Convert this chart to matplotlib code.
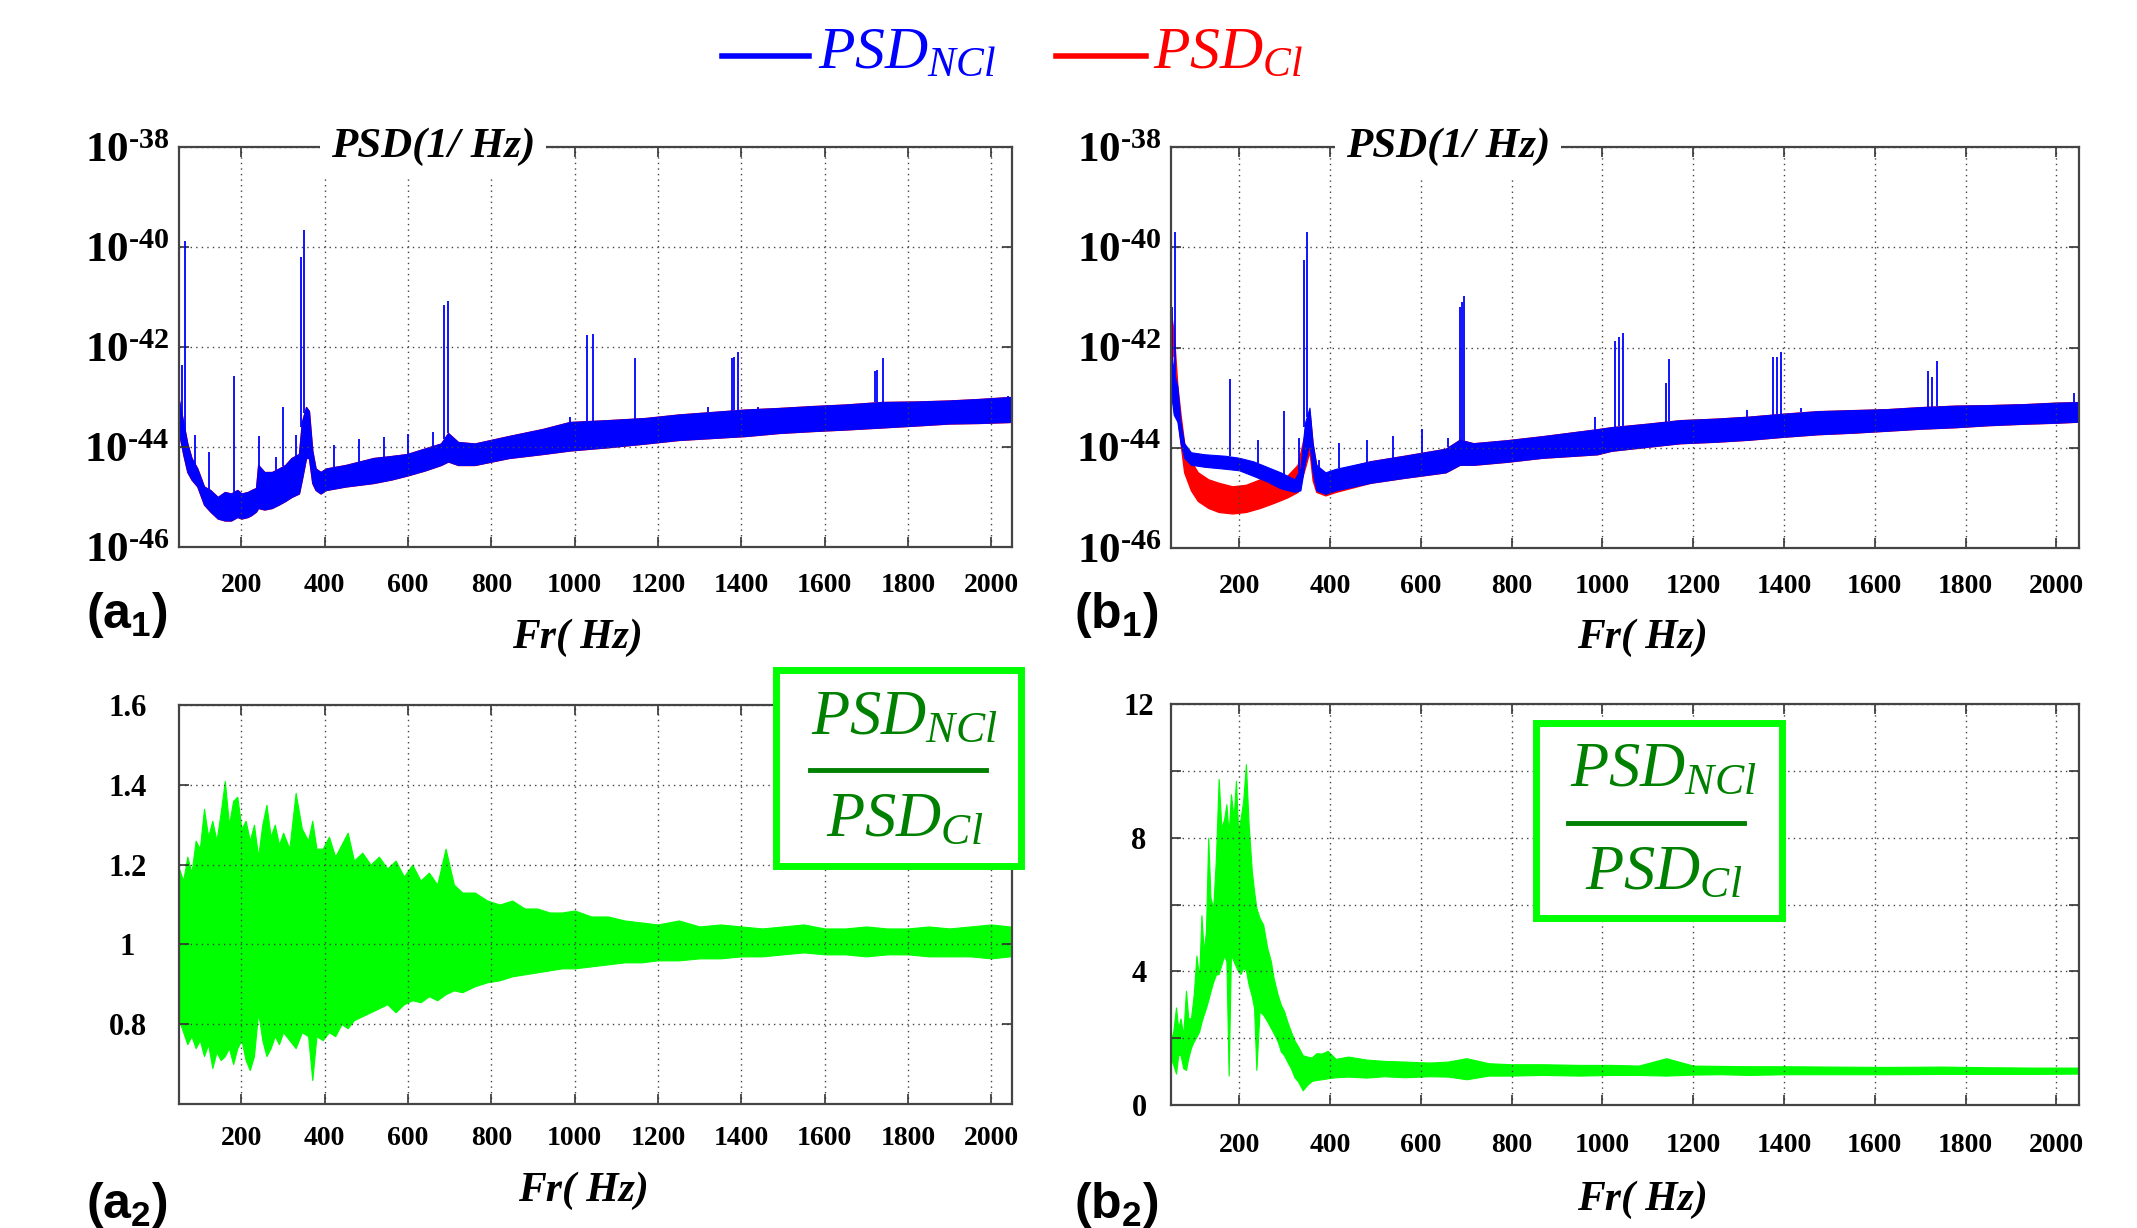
import numpy as np
import matplotlib
matplotlib.use("Agg")
import matplotlib.pyplot as plt
from matplotlib.patches import Rectangle
from matplotlib.lines import Line2D
from matplotlib.ticker import FuncFormatter

plt.rcParams['mathtext.fontset'] = 'custom'
plt.rcParams['mathtext.rm'] = 'Liberation Serif:bold'
plt.rcParams['mathtext.it'] = 'Liberation Serif:italic:normal'
plt.rcParams['mathtext.bf'] = 'Liberation Sans:bold'
plt.rcParams['font.family'] = ['Liberation Serif', 'DejaVu Sans']

# ---------------- data ----------------
# (a1) PSD band, log10 values
a1_f = [50, 55, 60, 70, 80, 94, 110, 125, 143, 160, 175, 190, 200, 215, 224, 235, 240, 255,
        273, 290, 305, 320, 338, 345, 355, 362, 370, 378, 390, 403, 450, 517, 560, 598, 640,
        679, 696, 720, 760, 842, 923, 988, 1086, 1170, 1249, 1330, 1411, 1490, 1574, 1650,
        1736, 1820, 1899, 1970, 2045]
a1_hi = [-43.07, -43.28, -43.50, -43.93, -44.22, -44.43, -44.79, -44.86, -45.00, -44.90, -44.93,
         -44.86, -44.93, -44.90, -44.86, -44.82, -44.36, -44.50, -44.50, -44.43, -44.36, -44.22,
         -44.14, -43.50, -43.20, -43.28, -44.07, -44.43, -44.50, -44.43, -44.36, -44.22, -44.18,
         -44.14, -44.03, -43.93, -43.72, -43.90, -43.93, -43.78, -43.64, -43.50, -43.46, -43.42,
         -43.35, -43.30, -43.25, -43.22, -43.18, -43.15, -43.10, -43.09, -43.07, -43.04, -43.00]
a1_lo = [-43.71, -43.93, -44.14, -44.50, -44.65, -44.79, -45.15, -45.29, -45.43, -45.47, -45.47,
         -45.40, -45.43, -45.40, -45.36, -45.29, -45.22, -45.25, -45.22, -45.15, -45.08, -45.00,
         -44.93, -44.65, -44.22, -44.22, -44.72, -44.86, -44.93, -44.86, -44.79, -44.72, -44.65,
         -44.57, -44.47, -44.36, -44.29, -44.36, -44.36, -44.22, -44.14, -44.07, -44.00, -43.93,
         -43.86, -43.82, -43.78, -43.72, -43.68, -43.65, -43.61, -43.57, -43.53, -43.52, -43.50]
a1_spk_f = [58, 65, 89, 122, 182, 242, 283, 300, 331, 344, 351, 362, 422, 481, 543, 601, 660,
            687, 697, 988, 1030, 1043, 1146, 1320, 1377, 1383, 1391, 1440, 1720, 1727, 1741, 2040]
a1_spk_top = [-42.35, -39.88, -43.75, -44.10, -42.58, -43.78, -44.20, -43.20, -43.75, -40.20,
              -39.66, -43.30, -43.96, -43.84, -43.80, -43.73, -43.70, -41.15, -41.08, -43.39,
              -41.76, -41.74, -42.22, -43.19, -42.21, -42.19, -42.09, -43.20, -42.48, -42.46,
              -42.22, -42.98]

# (b1) PSD bands, log10 values
b1_f = [50, 56, 64, 71, 79, 94, 124, 170, 200, 231, 261, 291, 322, 335, 345, 355, 362, 370,
        390, 413, 489, 564, 655, 686, 716, 790, 868, 989, 1020, 1100, 1171, 1250, 1323, 1400,
        1475, 1550, 1627, 1700, 1778, 1850, 1930, 2000, 2049]
b1_hi = [-42.05, -42.48, -42.77, -43.48, -43.91, -44.09, -44.13, -44.16, -44.20, -44.27, -44.38,
         -44.49, -44.63, -44.42, -43.50, -43.20, -43.91, -44.34, -44.49, -44.42, -44.27, -44.16,
         -44.02, -43.84, -43.91, -43.85, -43.77, -43.63, -43.59, -43.52, -43.45, -43.42, -43.38,
         -43.32, -43.27, -43.25, -43.23, -43.19, -43.16, -43.15, -43.13, -43.10, -43.09]
b1_lo = [-42.91, -43.34, -43.48, -43.91, -44.20, -44.34, -44.38, -44.42, -44.45, -44.56, -44.67,
         -44.81, -44.88, -44.85, -44.30, -43.91, -44.50, -44.85, -44.92, -44.85, -44.70, -44.60,
         -44.49, -44.34, -44.34, -44.28, -44.20, -44.13, -44.06, -43.98, -43.91, -43.88, -43.84,
         -43.78, -43.73, -43.70, -43.66, -43.62, -43.59, -43.55, -43.52, -43.50, -43.48]
b1r_f = [50, 56, 64, 71, 79, 94, 109, 132, 155, 185, 215, 246, 276, 306, 329, 345, 355, 362,
         370, 390, 413]
b1r_hi = [-41.33, -41.69, -42.77, -43.34, -43.91, -44.27, -44.49, -44.63, -44.70, -44.77, -44.74,
          -44.63, -44.60, -44.56, -44.34, -43.70, -43.28, -43.92, -44.36, -44.52, -44.45]
b1r_lo = [-42.05, -42.19, -43.34, -43.91, -44.49, -44.85, -45.06, -45.20, -45.28, -45.31, -45.28,
          -45.20, -45.10, -44.99, -44.88, -44.40, -44.07, -44.65, -44.88, -44.95, -44.88]
b1_spk_f = [53, 59, 180, 241, 299, 331, 344, 349, 357, 375, 420, 481, 540, 602, 660, 686, 690,
            696, 983, 1029, 1037, 1045, 1141, 1146, 1319, 1376, 1385, 1393, 1438, 1717, 1726,
            1737, 2039]
b1_spk_top = [-41.19, -39.70, -42.62, -43.84, -43.27, -43.80, -40.26, -39.70, -43.34, -44.24,
              -43.90, -43.84, -43.77, -43.63, -43.80, -41.20, -41.10, -40.97, -43.38, -41.87,
              -41.80, -41.71, -42.70, -42.23, -43.25, -42.19, -42.18, -42.09, -43.20, -42.47,
              -42.59, -42.27, -42.91]

# (a2) ratio band
a2_f = [50, 60, 70, 80, 90, 100, 110, 120, 130, 140, 150, 160, 170, 180, 190, 200, 210, 220,
        230, 240, 250, 260, 270, 280, 290, 300, 315, 330, 345, 360, 370, 380, 395, 410, 425,
        440, 455, 470, 490, 510, 530, 550, 570, 590, 610, 630, 650, 670, 690, 710, 730, 760,
        790, 820, 850, 880, 910, 940, 970, 1000, 1040, 1080, 1120, 1160, 1200, 1250, 1300,
        1350, 1400, 1450, 1500, 1550, 1600, 1650, 1700, 1750, 1800, 1850, 1900, 1950, 2000, 2045]
a2_hi = [1.19, 1.16, 1.22, 1.18, 1.26, 1.24, 1.34, 1.27, 1.31, 1.26, 1.33, 1.41, 1.30, 1.36,
         1.37, 1.29, 1.31, 1.26, 1.30, 1.22, 1.30, 1.35, 1.27, 1.30, 1.25, 1.28, 1.24, 1.38,
         1.29, 1.26, 1.31, 1.24, 1.24, 1.27, 1.22, 1.25, 1.28, 1.21, 1.23, 1.20, 1.22, 1.19,
         1.21, 1.17, 1.20, 1.16, 1.18, 1.15, 1.24, 1.15, 1.13, 1.13, 1.11, 1.10, 1.11, 1.09,
         1.09, 1.08, 1.08, 1.085, 1.07, 1.07, 1.06, 1.055, 1.05, 1.06, 1.045, 1.05, 1.045,
         1.04, 1.045, 1.05, 1.04, 1.04, 1.045, 1.04, 1.04, 1.045, 1.04, 1.045, 1.05, 1.045]
a2_lo = [0.81, 0.78, 0.75, 0.77, 0.74, 0.76, 0.72, 0.75, 0.69, 0.73, 0.71, 0.72, 0.74, 0.70,
         0.74, 0.76, 0.71, 0.685, 0.72, 0.83, 0.76, 0.72, 0.74, 0.77, 0.75, 0.78, 0.76, 0.74,
         0.78, 0.77, 0.66, 0.77, 0.76, 0.78, 0.77, 0.80, 0.79, 0.81, 0.82, 0.83, 0.84, 0.85,
         0.83, 0.85, 0.86, 0.855, 0.87, 0.86, 0.875, 0.885, 0.88, 0.895, 0.905, 0.91, 0.92,
         0.925, 0.93, 0.935, 0.94, 0.94, 0.945, 0.95, 0.955, 0.955, 0.96, 0.96, 0.965, 0.965,
         0.97, 0.97, 0.975, 0.98, 0.975, 0.975, 0.97, 0.975, 0.975, 0.97, 0.97, 0.97, 0.965, 0.97]

# (b2) ratio band
b2_f = [50, 55, 61, 66, 71, 77, 83, 88, 94, 100, 106, 112, 117, 122, 127, 132, 137, 143, 149,
        155, 161, 167, 172, 177, 182, 188, 193, 198, 203, 209, 215, 221, 228, 233, 238, 245,
        253, 262, 270, 276, 285, 292, 299, 306, 314, 322, 330, 340, 350, 360, 370, 382, 395,
        413, 440, 480, 520, 564, 620, 660, 701, 750, 800, 868, 950, 1020, 1080, 1141, 1200,
        1260, 1323, 1400, 1500, 1627, 1750, 1850, 1950, 2049]
b2_hi = [1.93, 2.2, 2.92, 2.3, 2.59, 2.1, 3.42, 2.6, 2.59, 3.3, 4.47, 3.8, 5.68, 4.6, 5.2, 8.0,
         6.2, 5.9, 7.4, 9.76, 8.3, 8.55, 9.0, 8.1, 9.3, 8.6, 9.7, 8.2, 8.55, 9.1, 10.2, 8.4,
         7.0, 6.4, 5.9, 5.6, 5.4, 4.7, 4.3, 3.8, 3.3, 3.0, 2.81, 2.5, 2.2, 1.93, 1.75, 1.49,
         1.45, 1.42, 1.55, 1.54, 1.62, 1.38, 1.45, 1.36, 1.32, 1.30, 1.27, 1.30, 1.40, 1.25,
         1.22, 1.22, 1.20, 1.20, 1.18, 1.40, 1.18, 1.17, 1.16, 1.16, 1.15, 1.14, 1.15, 1.13,
         1.12, 1.12]
b2_lo = [1.38, 1.2, 0.94, 1.5, 1.49, 1.1, 1.05, 1.4, 1.71, 1.9, 2.04, 2.2, 2.48, 2.7, 2.9,
         3.14, 3.4, 3.69, 3.9, 3.92, 4.2, 4.47, 4.3, 0.88, 4.5, 4.3, 4.14, 4.0, 3.92, 4.1, 4.03,
         3.6, 3.25, 2.9, 1.05, 2.8, 2.7, 2.5, 2.3, 2.15, 1.9, 1.6, 1.49, 1.3, 1.1, 0.83, 0.7,
         0.44, 0.6, 0.72, 0.75, 0.77, 0.80, 0.83, 0.85, 0.82, 0.86, 0.83, 0.86, 0.85, 0.77,
         0.88, 0.88, 0.90, 0.88, 0.90, 0.90, 0.88, 0.91, 0.92, 0.90, 0.92, 0.92, 0.92, 0.93,
         0.93, 0.93, 0.94]

x_ticks = [200, 400, 600, 800, 1000, 1200, 1400, 1600, 1800, 2000]
psd_ticks = [1e-46, 1e-44, 1e-42, 1e-40, 1e-38]
a2_ticks = [0.6, 0.8, 1.0, 1.2, 1.4, 1.6]
a2_labels = ['', '0.8', '1', '1.2', '1.4', '1.6']
b2_ticks = [0, 2, 4, 6, 8, 10, 12]
b2_labels = ['0', '', '4', '', '8', '', '12']

BLUE, RED, LIME, DGREEN = '#0000ff', '#ff0000', '#00ff00', '#008000'
W, H = 2137, 1228


def rect(x0, y0, x1, y1):
    # pixel box -> figure fraction
    return [x0 / W, 1 - y1 / H, (x1 - x0) / W, (y1 - y0) / H]


def style(ax, xpad):
    ax.set_xlim(50, 2050)
    ax.set_xticks(x_ticks)
    ax.grid(True, linestyle=(0, (1, 3)), color='#444444', linewidth=1.0)
    ax.tick_params(direction='in', length=7, width=1.2, top=True, right=True,
                   colors='#333333', labelcolor='black')
    ax.tick_params(axis='x', labelsize=20, pad=xpad)
    for s in ax.spines.values():
        s.set_color('#444444')
        s.set_linewidth(1.6)
    for t in ax.get_xticklabels():
        t.set_fontweight('bold')


def sci(v, pos):
    return r'$10^{\text{-%d}}$' % int(round(-np.log10(v)))


def psd_panel(ax, f, hi, lo, spk_f, spk_top, red_f, red_hi, red_lo):
    f = np.array(f)
    ax.fill_between(red_f, 10 ** np.array(red_lo), 10 ** np.array(red_hi),
                    color=RED, linewidth=1.0, edgecolor=RED)
    ax.fill_between(f, 10 ** np.array(lo), 10 ** np.array(hi),
                    color=BLUE, linewidth=0.8, edgecolor=BLUE)
    base = 10 ** np.interp(spk_f, f, hi)
    ax.vlines(spk_f, base, 10 ** np.array(spk_top), color=BLUE, linewidth=1.3)
    ax.set_yscale('log')
    ax.set_ylim(1e-46, 1e-38)
    ax.set_yticks(psd_ticks)
    ax.minorticks_off()
    ax.yaxis.set_major_formatter(FuncFormatter(sci))
    ax.tick_params(axis='y', labelsize=31, pad=7)
    ax.text(0.305, 1.0, 'PSD(1/ Hz)', transform=ax.transAxes, ha='center', va='center',
            fontsize=31, style='italic', weight='bold', zorder=10,
            bbox=dict(fc='white', ec='none', pad=8))


fig = plt.figure(figsize=(W / 100, H / 100), dpi=100)

# (a1)
ax1 = fig.add_axes(rect(179, 147, 1012, 547))
style(ax1, 19)
psd_panel(ax1, a1_f, a1_hi, a1_lo, a1_spk_f, a1_spk_top, a1_f, a1_hi, a1_lo)

# (b1)
ax2 = fig.add_axes(rect(1171, 147, 2079, 548))
style(ax2, 19)
red_f = b1r_f + [v for v in b1_f if v > 413]
red_hi = b1r_hi + [h for v, h in zip(b1_f, b1_hi) if v > 413]
red_lo = b1r_lo + [l for v, l in zip(b1_f, b1_lo) if v > 413]
psd_panel(ax2, b1_f, b1_hi, b1_lo, b1_spk_f, b1_spk_top, red_f, red_hi, red_lo)

# (a2)
ax3 = fig.add_axes(rect(179, 705, 1012, 1104))
style(ax3, 16)
ax3.fill_between(a2_f, a2_lo, a2_hi, color=LIME, linewidth=0.8, edgecolor=LIME)
ax3.set_ylim(0.6, 1.6)
ax3.set_yticks(a2_ticks)
ax3.set_yticklabels(a2_labels)
ax3.tick_params(axis='y', labelsize=22, pad=37)
for t in ax3.get_yticklabels():
    t.set_horizontalalignment('center')
    t.set_fontweight('bold')

# (b2)
ax4 = fig.add_axes(rect(1171, 704, 2079, 1105))
style(ax4, 20)
ax4.fill_between(b2_f, b2_lo, b2_hi, color=LIME, linewidth=0.8, edgecolor=LIME)
ax4.set_ylim(0, 12)
ax4.set_yticks(b2_ticks)
ax4.set_yticklabels(b2_labels)
ax4.tick_params(axis='y', labelsize=22, pad=23)
for t in ax4.get_yticklabels():
    t.set_horizontalalignment('center')
    t.set_fontweight('bold')

# x labels
lab = dict(fontsize=30, style='italic', weight='bold', ha='center', va='center')
fig.text(577 / W, 1 - 638 / H, 'Fr( Hz)', **lab)
fig.text(1642 / W, 1 - 638 / H, 'Fr( Hz)', **lab)
fig.text(583 / W, 1 - 1191 / H, 'Fr( Hz)', **lab)
fig.text(1642 / W, 1 - 1200 / H, 'Fr( Hz)', **lab)

# panel labels
pl = dict(fontsize=36, ha='left', va='center')
fig.text(86 / W, 1 - 615 / H, r'$\mathbf{(a_1)}$', **pl)
fig.text(1074 / W, 1 - 615 / H, r'$\mathbf{(b_1)}$', **pl)
fig.text(86 / W, 1 - 1205 / H, r'$\mathbf{(a_2)}$', **pl)
fig.text(1074 / W, 1 - 1205 / H, r'$\mathbf{(b_2)}$', **pl)

# top legend
fig.add_artist(Line2D([722 / W, 809 / W], [1 - 56 / H] * 2, color=BLUE, lw=4))
fig.text(818 / W, 1 - 68 / H, r'$PSD_{NCl}$', fontsize=43, color=BLUE, va='baseline')
fig.add_artist(Line2D([1056 / W, 1146 / W], [1 - 56 / H] * 2, color=RED, lw=4))
fig.text(1153 / W, 1 - 68 / H, r'$PSD_{Cl}$', fontsize=43, color=RED, va='baseline')


# ratio boxes
def ratio_box(x0, y0, x1, y1, tx1, tb1, ly, lx0, lx1, tx2, tb2):
    fig.add_artist(Rectangle((x0 / W, 1 - y1 / H), (x1 - x0) / W, (y1 - y0) / H,
                             transform=fig.transFigure, fc='white', ec=LIME, lw=5, zorder=5))
    fig.text(tx1 / W, 1 - tb1 / H, r'$PSD_{NCl}$', fontsize=45, color=DGREEN,
             va='baseline', zorder=6)
    fig.add_artist(Line2D([lx0 / W, lx1 / W], [1 - ly / H] * 2, color=DGREEN, lw=3.5, zorder=6))
    fig.text(tx2 / W, 1 - tb2 / H, r'$PSD_{Cl}$', fontsize=45, color=DGREEN,
             va='baseline', zorder=6)


ratio_box(776, 670, 1021, 866, 811, 734, 770, 810, 986, 826, 836)
ratio_box(1536, 723, 1782, 918, 1570, 786, 823, 1568, 1744, 1585, 889)

fig.savefig('out.png', dpi=100)
